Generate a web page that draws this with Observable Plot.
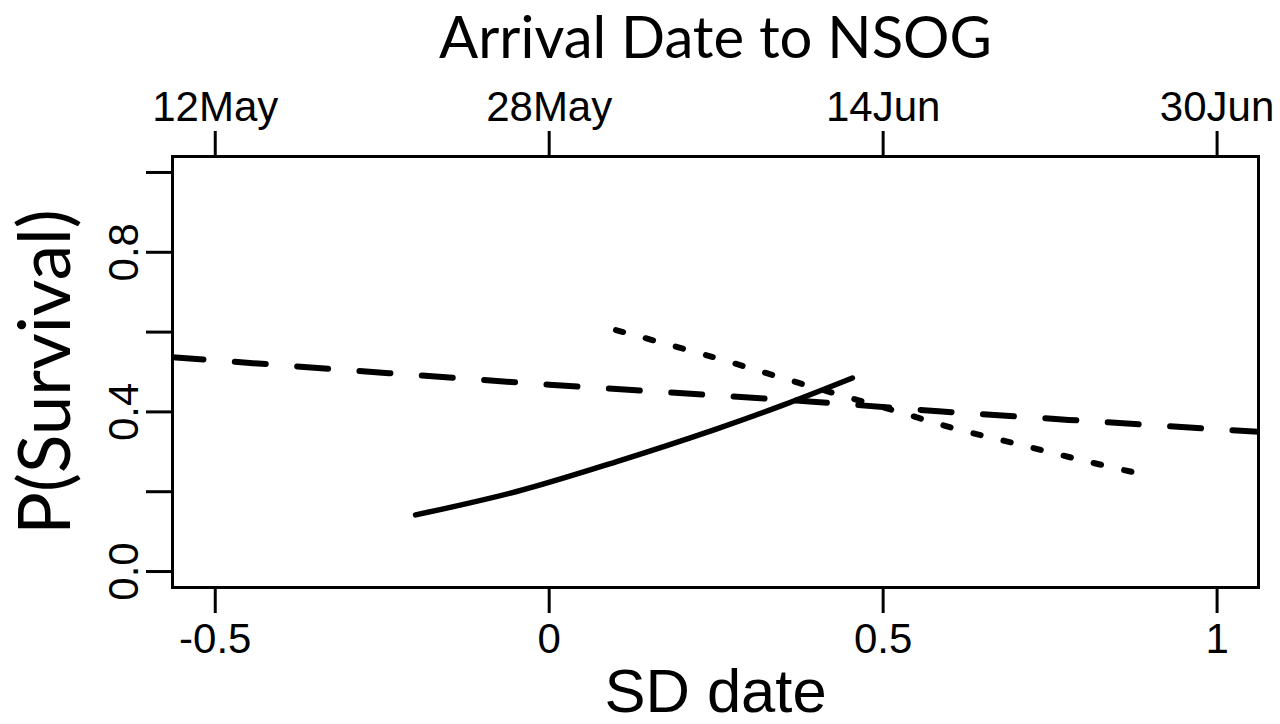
<!DOCTYPE html>
<html>
<head>
<meta charset="utf-8">
<script src="https://cdn.jsdelivr.net/npm/d3@7"></script>
<script src="https://cdn.jsdelivr.net/npm/@observablehq/plot@0.6"></script>
<style>
  html, body { margin: 0; padding: 0; background: #fff; overflow: hidden; }
</style>
</head>
<body>
<div id="chart"></div>
<script>
// Tick positions and labels
const xTicks = [-0.5, 0, 0.5, 1];
const dateLabels = ["12May", "28May", "14Jun", "30Jun"];
const yTicks = [0, 0.2, 0.4, 0.6, 0.8, 1.0];
const yLabelTicks = [0, 0.4, 0.8];

// Solid curve
const solidX = [-0.2, -0.05, 0.1, 0.25, 0.35, 0.454];
const solidY = [0.142, 0.20, 0.275, 0.357, 0.417, 0.485];

// Dashed curve
const dashX = [-0.564, -0.24, 0, 0.4, 0.588, 0.778, 1.062];
const dashY = [0.537, 0.497, 0.468, 0.425, 0.401, 0.38, 0.35];

// Dotted curve
const dotX = [0.1, 0.244, 0.379, 0.513, 0.608, 0.70, 0.795, 0.89];
const dotY = [0.605, 0.538, 0.47, 0.405, 0.358, 0.32, 0.28, 0.243];

const toPts = (xs, ys) => xs.map((x, i) => ({x, y: ys[i]}));
const solid = toPts(solidX, solidY);
const dashed = toPts(dashX, dashY);
const dotted = toPts(dotX, dotY);

const sans = "'Liberation Sans', Arial, sans-serif";
const humanist = "Lato, 'Open Sans', sans-serif";

const chart = Plot.plot({
  width: 1280,
  height: 724,
  marginLeft: 172,
  marginRight: 22,
  marginTop: 156,
  marginBottom: 137,
  style: {background: "#fff", color: "#000", fontFamily: sans},
  x: {domain: [-0.564, 1.062]},
  y: {domain: [-0.04, 1.04]},
  marks: [
    Plot.frame({stroke: "#000", strokeWidth: 3}),
    Plot.axisX({anchor: "bottom", ticks: xTicks, tickSize: 26, tickPadding: 10,
      strokeWidth: 3, fontSize: 42, fontFamily: sans, label: null,
      tickFormat: d => (d === 0 ? "0" : String(d))}),
    Plot.axisX({anchor: "top", ticks: xTicks, tickSize: 26, tickPadding: 10,
      strokeWidth: 3, fontSize: 42, fontFamily: sans, label: null,
      tickFormat: d => dateLabels[xTicks.indexOf(d)]}),
    Plot.axisY({anchor: "left", ticks: yTicks, tickSize: 26, strokeWidth: 3,
      label: null, tickFormat: () => ""}),
    Plot.text(yLabelTicks, {frameAnchor: "left", y: d => d, text: d => d.toFixed(1),
      textAnchor: "middle", rotate: -90, dx: -48, fontSize: 42, fontFamily: sans, fill: "#000"}),
    Plot.line(dashed, {x: "x", y: "y", stroke: "#000", strokeWidth: 6,
      strokeDasharray: "31,31.5", strokeLinecap: "round", clip: true}),
    Plot.line(dotted, {x: "x", y: "y", stroke: "#000", strokeWidth: 6,
      strokeDasharray: "7.5,23.5", strokeLinecap: "round", curve: "catmull-rom", clip: true}),
    Plot.line(solid, {x: "x", y: "y", stroke: "#000", strokeWidth: 5.5,
      curve: "catmull-rom", clip: true}),
    Plot.text(["Arrival Date to NSOG"], {frameAnchor: "top", lineAnchor: "bottom",
      textAnchor: "middle", dy: -99, fontSize: 58, fontFamily: humanist, fill: "#000"}),
    Plot.text(["SD date"], {frameAnchor: "bottom", lineAnchor: "bottom",
      textAnchor: "middle", dy: 124, fontSize: 61.5, fontFamily: sans, fill: "#000"}),
    Plot.text(["P(Survival)"], {frameAnchor: "left", rotate: -90, textAnchor: "middle",
      dx: -125, fontSize: 71, fontFamily: humanist, fill: "#000"})
  ]
});
document.getElementById("chart").appendChild(chart);
</script>
</body>
</html>
